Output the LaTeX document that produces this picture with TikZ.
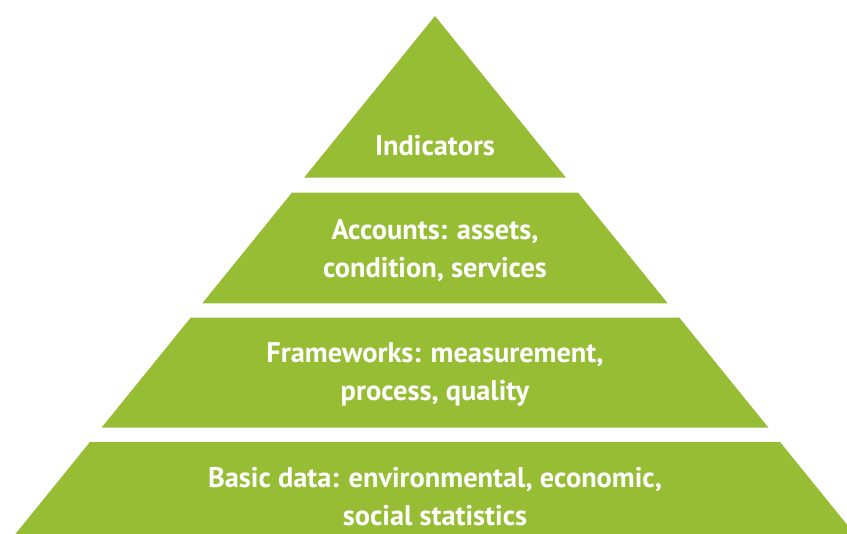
\documentclass[tikz,border=0pt]{standalone}
\usepackage{fontspec}
\setmainfont{PT Sans}
\usepackage{xcolor}
\usepackage{tikz}
\usetikzlibrary{positioning,calc}

\definecolor{pyrgreen}{RGB}{151,189,53}

\begin{document}
\begin{tikzpicture}[x=0.75pt,y=-0.75pt,
    band/.style={fill=pyrgreen},
    lbl/.style={text=white, font=\fontsize{21.3}{28.5}\selectfont\bfseries, align=center, inner sep=0pt}]
    \useasboundingbox (0,0) rectangle (847,533);
    \clip (0,0) rectangle (847,533);

    % Pyramid bands (apex at 435,16)
    \foreach \ya/\yb in {16/177.5, 192.5/303.3, 317.5/427.5, 442/560} {
        \pgfmathsetmacro{\xa}{0.81*(\ya-16)}
        \pgfmathsetmacro{\xb}{0.81*(\yb-16)}
        \fill[band] (435-\xa,\ya) -- (435+\xa,\ya) -- (435+\xb,\yb) -- (435-\xb,\yb) -- cycle;
    }

    % Labels
    \node[lbl] (ind) at (435,146) {Indicators};
    \node[lbl] (acc) at (435,251) {Accounts: assets,\\condition, services};
    \node[lbl] (frm) at (435,374) {Frameworks: measurement,\\process, quality};
    \node[lbl] (bas) at (435,497) {Basic data: environmental, economic,\\social statistics};
\end{tikzpicture}
\end{document}
